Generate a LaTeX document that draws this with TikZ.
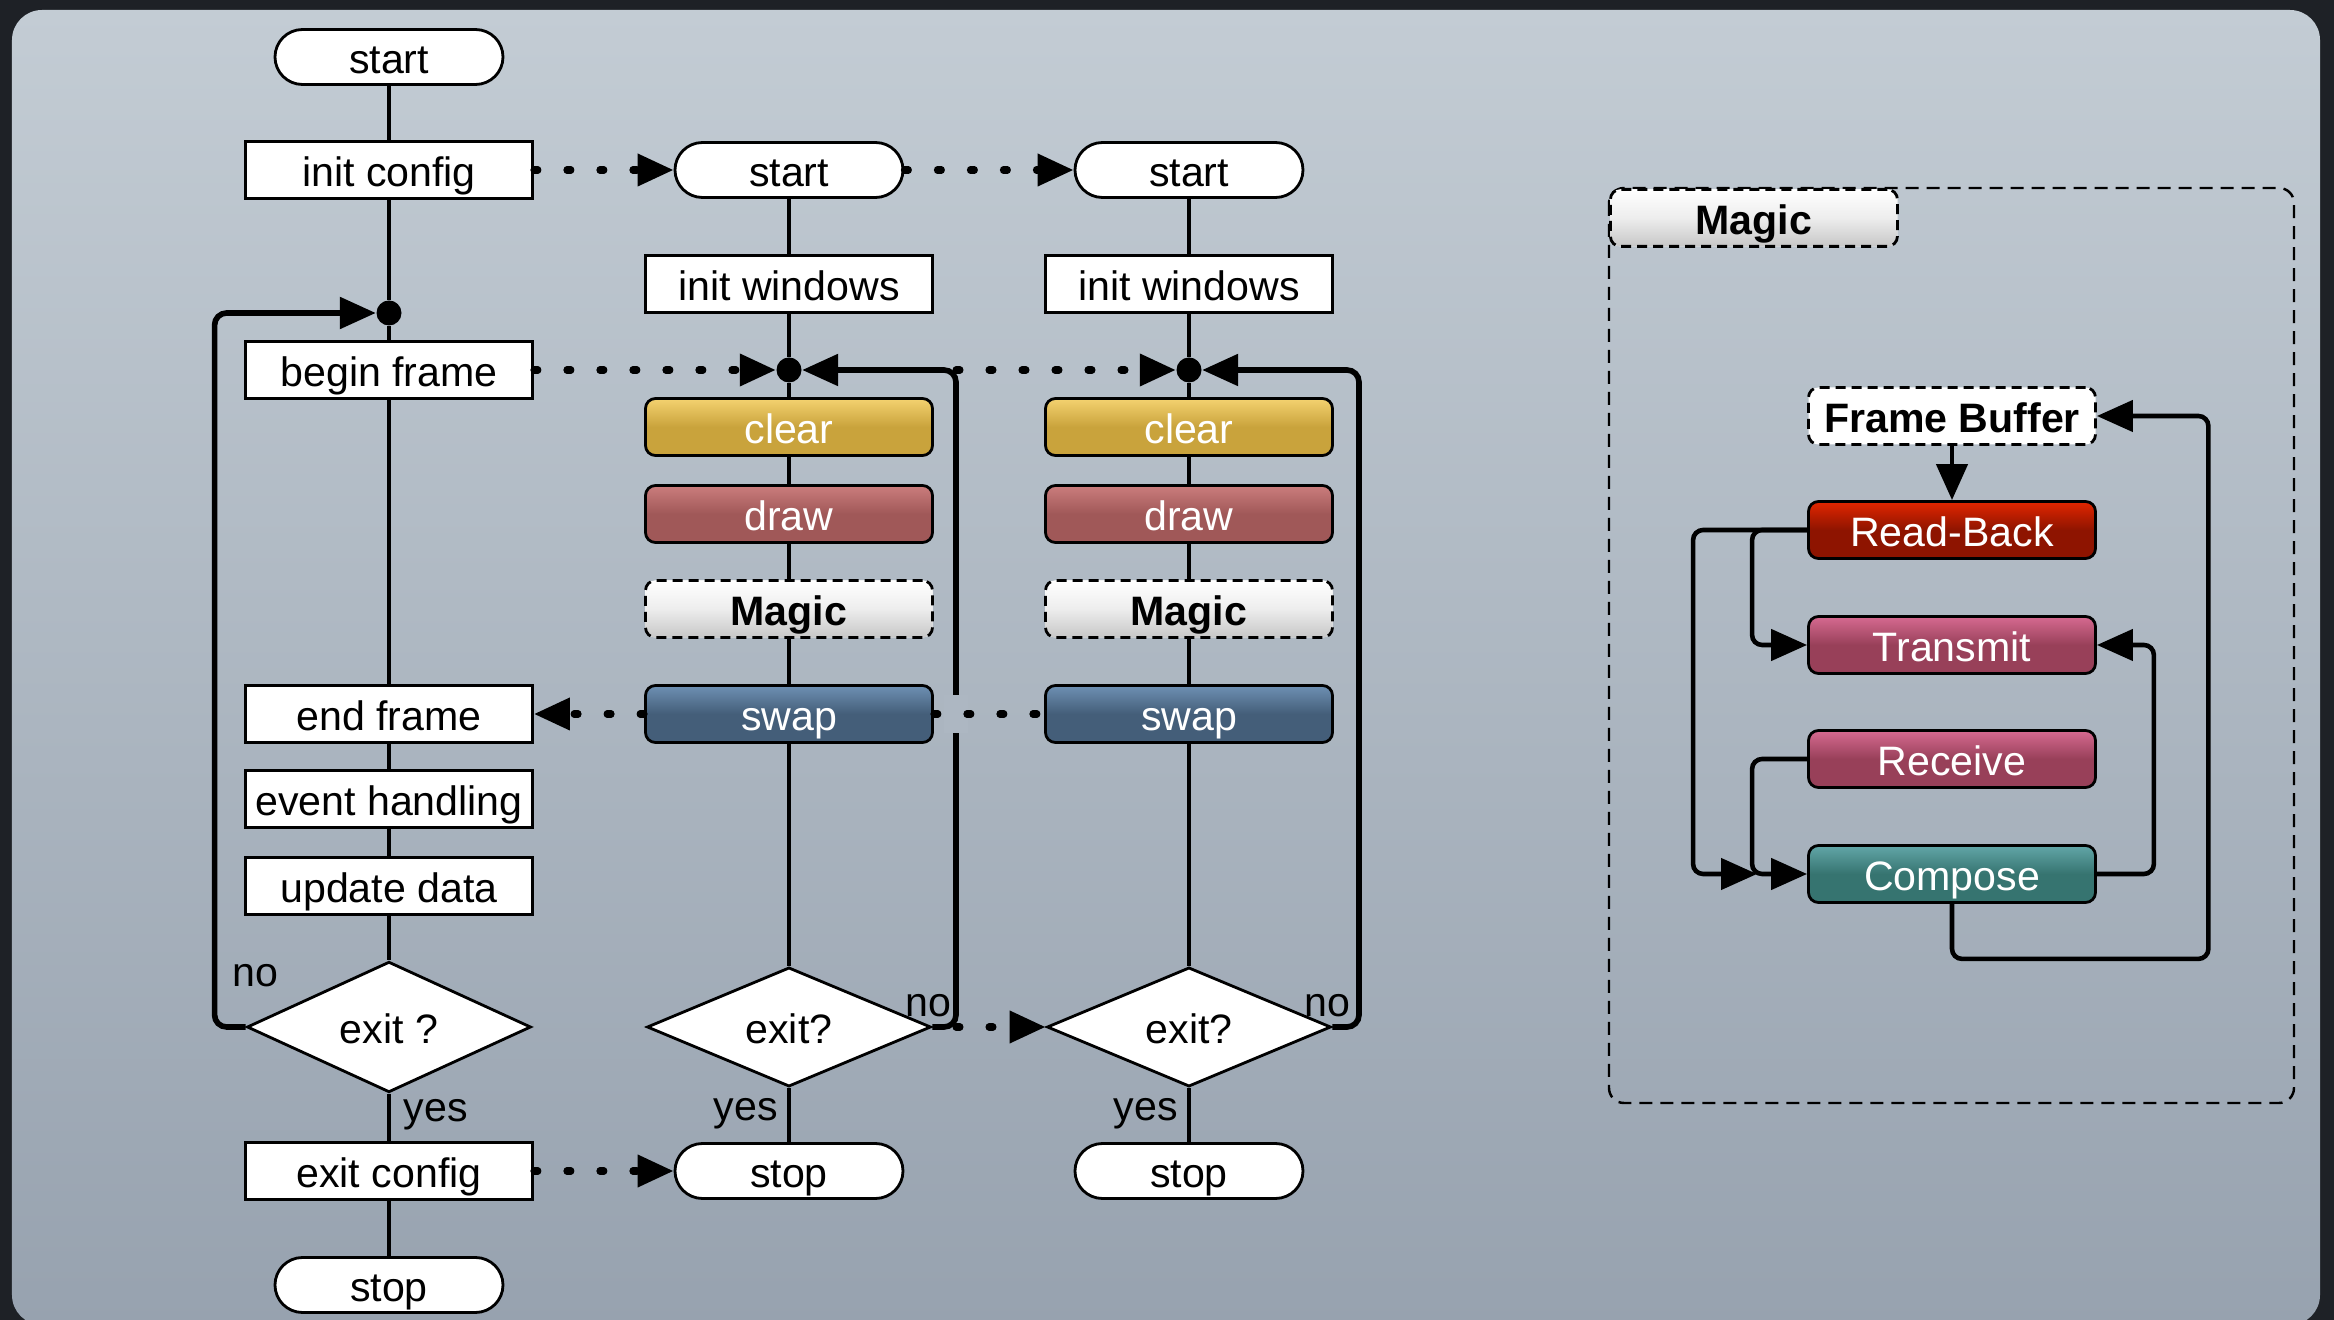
\documentclass[tikz,border=0pt]{standalone}
\usepackage{fontspec}
\setmainfont{Liberation Sans}
\usetikzlibrary{arrows.meta,shapes.geometric}

\definecolor{frameback}{HTML}{1E2126}
\definecolor{paneltop}{HTML}{C3CCD4}
\definecolor{panelbot}{HTML}{97A2AF}
\definecolor{panelgap}{HTML}{ADB7C2}
\definecolor{clearTop}{HTML}{F4D270}
\definecolor{clearBot}{HTML}{C9A33C}
\definecolor{drawTop}{HTML}{CB7D7D}
\definecolor{drawBot}{HTML}{A05858}
\definecolor{swapTop}{HTML}{6E90B3}
\definecolor{swapBot}{HTML}{445E79}
\definecolor{readTop}{HTML}{E22600}
\definecolor{readBot}{HTML}{8E1400}
\definecolor{sendTop}{HTML}{D66A91}
\definecolor{sendBot}{HTML}{984059}
\definecolor{compTop}{HTML}{62A6A8}
\definecolor{compBot}{HTML}{367470}

\begin{document}
\begin{tikzpicture}[every node/.style={font=\fontsize{11.7}{14}\selectfont}, >={Triangle[length=3.6mm,width=3.1mm]},
	box/.style={draw, line width=0.8pt, fill=white, minimum width=28.7mm, minimum height=5.7mm, inner sep=0pt, text height=9.2pt, text depth=0pt},
	term/.style={box, rounded corners=2.75mm, minimum width=22.8mm, minimum height=5.5mm},
	task/.style={box, rounded corners=1mm, text=white, top color=#1Top, bottom color=#1Bot, middle color=#1Bot},
	magic/.style={box, rounded corners=1mm, dash pattern=on 1mm off 0.6mm, top color=white, bottom color=white!78!black, middle color=white!93!black, font=\fontsize{11.7}{14}\selectfont\bfseries},
	buffer/.style={box, rounded corners=1mm, dash pattern=on 1mm off 0.6mm, font=\fontsize{11.7}{14}\selectfont\bfseries},
	test/.style={draw, line width=0.8pt, fill=white, diamond, minimum width=28.4mm, minimum height=11.3mm, inner sep=0pt, text height=9.2pt, text depth=0pt},
	dot/.style={circle, fill, inner sep=0pt, minimum size=2.5mm},
	conn/.style={line width=1.3pt, rounded corners=1mm},
	loopline/.style={line width=1.6pt, rounded corners=1.2mm},
	dotline/.style={line width=2pt, line cap=round, dash pattern=on 0.4mm off 2.9mm},
	grp/.style={line width=0.7pt, dash pattern=on 1.3mm off 0.8mm, rounded corners=1.5mm},
	lbl/.style={anchor=base west, inner sep=0pt}]
	\useasboundingbox (0,0) rectangle (23.34,-13.20);
	\fill[frameback] (0,0) rectangle (23.34,-13.20);
	\shade[top color=paneltop, bottom color=panelbot, rounded corners=3mm] (0.12,-0.10) rectangle (23.20,-13.25);

	% host program
	\node[term] (s1) at (3.89,-0.57) {start};
	\node[box] (cfg) at (3.89,-1.70) {init config};
	\node[dot] (j1) at (3.89,-3.13) {};
	\node[box] (bf) at (3.89,-3.70) {begin frame};
	\node[box] (ef) at (3.89,-7.14) {end frame};
	\node[box] (eh) at (3.89,-7.99) {event handling};
	\node[box] (ud) at (3.89,-8.86) {update data};
	\node[test] (x1) at (3.89,-10.27) {exit ?};
	\node[box] (xc) at (3.89,-11.71) {exit config};
	\node[term] (p1) at (3.89,-12.85) {stop};
	\draw[conn] (s1) -- (cfg) -- (j1) -- (bf) -- (ef) -- (eh) -- (ud) -- (x1) -- (xc) -- (p1);
	\draw[loopline,->] (x1.west) -- ++(-0.31,0) |- (j1);

	% first render process
	\node[term] (s2) at (7.89,-1.70) {start};
	\node[box] (iw2) at (7.89,-2.84) {init windows};
	\node[dot] (j2) at (7.89,-3.70) {};
	\node[task=clear] (cl2) at (7.89,-4.27) {clear};
	\node[task=draw] (dr2) at (7.89,-5.14) {draw};
	\node[magic] (mg2) at (7.89,-6.09) {Magic};
	\node[task=swap] (sw2) at (7.89,-7.14) {swap};
	\node[test] (x2) at (7.89,-10.27) {exit?};
	\node[term] (p2) at (7.89,-11.71) {stop};
	\draw[conn] (s2) -- (iw2) -- (j2) -- (cl2) -- (dr2) -- (mg2) -- (sw2) -- (x2) -- (p2);
	\coordinate (c2) at (9.56,-3.70);
	\coordinate (d2) at (9.56,-10.27);
	\draw[loopline,->] (x2.east) -- (d2) -- (c2) -- (j2);

	% second render process
	\node[term] (s3) at (11.89,-1.70) {start};
	\node[box] (iw3) at (11.89,-2.84) {init windows};
	\node[dot] (j3) at (11.89,-3.70) {};
	\node[task=clear] (cl3) at (11.89,-4.27) {clear};
	\node[task=draw] (dr3) at (11.89,-5.14) {draw};
	\node[magic] (mg3) at (11.89,-6.09) {Magic};
	\node[task=swap] (sw3) at (11.89,-7.14) {swap};
	\node[test] (x3) at (11.89,-10.27) {exit?};
	\node[term] (p3) at (11.89,-11.71) {stop};
	\draw[conn] (s3) -- (iw3) -- (j3) -- (cl3) -- (dr3) -- (mg3) -- (sw3) -- (x3) -- (p3);
	\coordinate (c3) at (13.59,-3.70);
	\coordinate (d3) at (13.59,-10.27);
	\draw[loopline,->] (x3.east) -- (d3) -- (c3) -- (j3);

	% sync between processes
	\fill[panelgap] (9.44,-6.95) rectangle (9.68,-7.33);
	\draw[dotline,->] (cfg) -- (s2);
	\draw[dotline,->] (s2) -- (s3);
	\draw[dotline,->] (bf) -- (j2);
	\draw[dotline,->] (c2) -- (j3);
	\draw[dotline,->] (sw2) -- (ef);
	\draw[dotline] (sw2) -- (sw3);
	\draw[dotline,->] (d2) -- (x3);
	\draw[dotline,->] (xc) -- (p2);

	\node[lbl] (no1) at (2.32,-9.87) {no};
	\node[lbl] (yes1) at (4.03,-11.22) {yes};
	\node[lbl] (no2) at (9.05,-10.17) {no};
	\node[lbl] (yes2) at (7.13,-11.21) {yes};
	\node[lbl] (no3) at (13.04,-10.17) {no};
	\node[lbl] (yes3) at (11.13,-11.21) {yes};

	% inside the magic step
	\draw[grp] (16.09,-1.88) rectangle (22.94,-11.03);
	\node[magic, anchor=north west] (mt) at (16.09,-1.88) {Magic};
	\node[buffer] (fb) at (19.52,-4.16) {Frame Buffer};
	\node[task=read] (rb) at (19.52,-5.30) {Read-Back};
	\node[task=send] (tx) at (19.52,-6.45) {Transmit};
	\node[task=send] (rx) at (19.52,-7.59) {Receive};
	\node[task=comp] (cp) at (19.52,-8.74) {Compose};
	\coordinate (mrg) at (17.57,-8.74);
	\draw[conn,->] (fb) -- (rb);
	\draw[conn,->] (rb.west) -- ++(-1.14,0) |- (mrg);
	\draw[conn,->] (rb.west) -- ++(-0.55,0) |- (tx.west);
	\draw[conn,->] (rx.west) -- ++(-0.55,0) |- (cp.west);
	\draw[conn,->] (cp.east) -- ++(0.57,0) |- (tx.east);
	\draw[conn,->] (cp.south) -- ++(0,-0.55) -| ([xshift=11.15mm]fb.east) -- (fb.east);
\end{tikzpicture}
\end{document}
